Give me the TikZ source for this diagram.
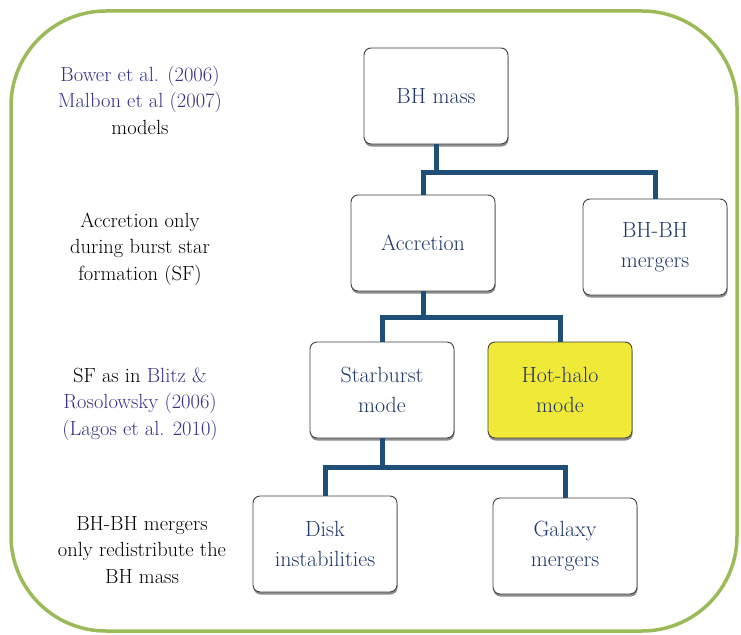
\documentclass[tikz,border=0pt]{standalone}
\usepackage{fontspec}
\usetikzlibrary{positioning, shadows}

\definecolor{frame}{RGB}{155,187,89}
\definecolor{linkblue}{RGB}{31,78,121}
\definecolor{boxtext}{RGB}{30,56,104}
\definecolor{cite}{RGB}{50,50,134}
\definecolor{halo}{RGB}{240,233,55}

\tikzset{
  box/.style={draw=black!75, line width=0.9pt, rounded corners=7pt, fill=white,
    minimum width=144pt, minimum height=96pt, align=center, text=boxtext,
    font=\fontsize{22}{30}\selectfont,
    drop shadow={shadow xshift=0.5pt, shadow yshift=-2.5pt, opacity=0.45, fill=black}},
  note/.style={align=center, font=\fontsize{20.5}{26.5}\selectfont},
  link/.style={draw=linkblue, line width=5pt, line join=miter}
}

\begin{document}
\begin{tikzpicture}[x=1pt, y=-1pt]

\useasboundingbox (0,0) rectangle (741,634);

% Outer frame
\draw[frame, line width=3.5pt, rounded corners=95pt] (11,11) rectangle (737,631);

% Notes on the left
\node[note] (models) at (140,100)
  {\textcolor{cite}{Bower et al. (2006)}\\\textcolor{cite}{Malbon et al (2007)}\\models};
\node[note] (acconly) at (140,249) {Accretion only\\during burst star\\formation (SF)};
\node[note] (sfnote) at (140,404)
  {SF as in \textcolor{cite}{Blitz \&}\\\textcolor{cite}{Rosolowsky (2006)}\\\textcolor{cite}{(Lagos et al. 2010)}};
\node[note] (mergnote) at (142,550) {BH-BH mergers\\only redistribute the\\BH mass};

% Tree boxes
\node[box] (bhmass) at (436,96) {BH mass};
\node[box] (accretion) at (423,243) {Accretion};
\node[box] (bhbh) at (655,247) {BH-BH\\mergers};
\node[box] (starburst) at (382,390) {Starburst\\mode};
\node[box, fill=halo] (hothalo) at (560,390) {Hot-halo\\mode};
\node[box] (disk) at (325,544) {Disk\\instabilities};
\node[box] (galaxy) at (565,546) {Galaxy\\mergers};

% Connectors
\draw[link] (bhmass.south) -- ++(0,28) coordinate (j1) -| (accretion.north);
\draw[link] (j1) -| (bhbh.north);

\draw[link] (accretion.south) -- ++(0,26) coordinate (j2) -| (starburst.north);
\draw[link] (j2) -| (hothalo.north);

\draw[link] (starburst.south) -- ++(0,29) coordinate (j3) -| (disk.north);
\draw[link] (j3) -| (galaxy.north);

\end{tikzpicture}
\end{document}
